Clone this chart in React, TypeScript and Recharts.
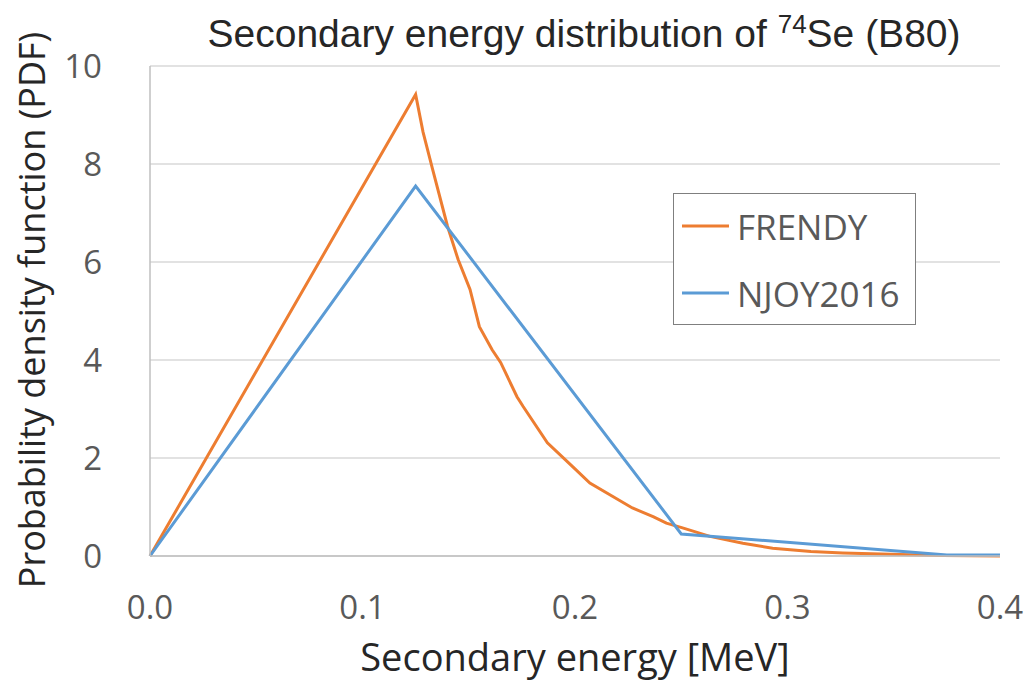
import React from 'react'
import { LineChart, Line, XAxis, YAxis, CartesianGrid } from 'recharts'

// secondary energy [MeV] and PDF values
const frendyX = [0, 0.125, 0.1285, 0.133, 0.14, 0.145, 0.1506, 0.155, 0.161, 0.165, 0.1727, 0.1756, 0.187, 0.199, 0.207, 0.218, 0.227, 0.237, 0.243, 0.251, 0.2635, 0.279, 0.293, 0.311, 0.326, 0.353, 0.373, 0.4]
const frendyY = [0, 9.42, 8.65, 7.89, 6.73, 6.05, 5.44, 4.68, 4.21, 3.95, 3.25, 3.05, 2.31, 1.82, 1.49, 1.21, 0.98, 0.8, 0.67, 0.57, 0.4, 0.26, 0.16, 0.09, 0.06, 0.03, 0.01, 0]

const njoyX = [0, 0.125, 0.25, 0.375, 0.4]
const njoyY = [0, 7.55, 0.45, 0.02, 0.02]

const xTicks = [0, 0.1, 0.2, 0.3, 0.4]
const yTicks = [0, 2, 4, 6, 8, 10]

const series = [
  { name: 'FRENDY', color: '#ed7d31', xs: frendyX, ys: frendyY },
  { name: 'NJOY2016', color: '#5b9bd5', xs: njoyX, ys: njoyY },
]

const tickFont = { fontFamily: 'Open Sans', fontSize: 33, fill: '#595959' }
const axisStroke = { stroke: '#bfbfbf', strokeWidth: 1.5 }

export default function App() {
  return (
    <div style={{ position: 'absolute', left: 0, top: 0, width: 1027, height: 681, background: '#fff', overflow: 'hidden' }}>
      <LineChart width={1027} height={681} margin={{ top: 66, right: 27, left: 0, bottom: 0 }}>
        <CartesianGrid vertical={false} stroke="#d9d9d9" strokeWidth={1.5} />
        <XAxis
          type="number"
          dataKey="x"
          domain={[0, 0.4]}
          ticks={xTicks}
          tickFormatter={(v: number) => v.toFixed(1)}
          height={125}
          tick={tickFont}
          tickLine={false}
          axisLine={axisStroke}
          tickMargin={34}
          allowDuplicatedCategory={false}
        />
        <YAxis
          type="number"
          domain={[0, 10]}
          ticks={yTicks}
          width={150}
          tick={tickFont}
          tickLine={false}
          axisLine={axisStroke}
          tickMargin={42}
        />
        {series.map((s) => (
          <Line
            key={s.name}
            data={s.xs.map((x, i) => ({ x, y: s.ys[i] }))}
            dataKey="y"
            name={s.name}
            stroke={s.color}
            strokeWidth={3}
            dot={false}
            isAnimationActive={false}
          />
        ))}
      </LineChart>

      {/* title */}
      <div style={{ position: 'absolute', left: 0, width: 1168, top: 9, textAlign: 'center', fontFamily: 'Liberation Sans', fontSize: 39, color: '#262626', whiteSpace: 'nowrap' }}>
        Secondary energy distribution of <sup style={{ fontSize: 26, verticalAlign: 14 }}>74</sup>Se (B80)
      </div>
      {/* axis titles */}
      <div style={{ position: 'absolute', left: 575, top: 656, transform: 'translate(-50%, -50%)', fontFamily: 'Open Sans', fontSize: 38, color: '#262626', whiteSpace: 'nowrap' }}>
        Secondary energy [MeV]
      </div>
      <div style={{ position: 'absolute', left: 31, top: 310, transform: 'translate(-50%, -50%) rotate(-90deg)', fontFamily: 'Open Sans', fontSize: 36, color: '#262626', whiteSpace: 'nowrap' }}>
        Probability density function (PDF)
      </div>
      {/* legend */}
      <div style={{ position: 'absolute', left: 673, top: 193, width: 243, height: 132, border: '1.5px solid #7f7f7f', boxSizing: 'border-box', background: '#fff', fontFamily: 'Open Sans', fontSize: 35, color: '#595959' }}>
        {series.map((s, i) => (
          <div key={s.name} style={{ position: 'absolute', left: 8, top: 32 + i * 67, transform: 'translateY(-50%)', display: 'flex', alignItems: 'center', whiteSpace: 'nowrap' }}>
            <div style={{ width: 47, height: 3, background: s.color, marginRight: 8 }} />
            <span>{s.name}</span>
          </div>
        ))}
      </div>
    </div>
  )
}
